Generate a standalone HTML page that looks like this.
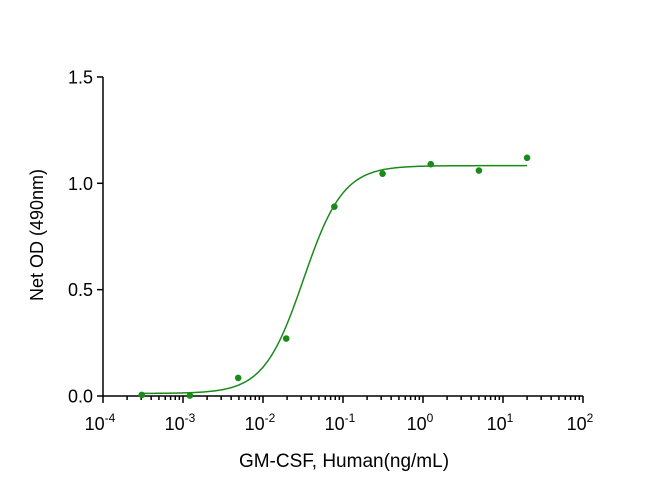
<!DOCTYPE html>
<html><head><meta charset="utf-8"><style>body{margin:0;background:#fff}svg{display:block;font-family:"Liberation Sans",Arial,sans-serif}</style></head>
<body>
<svg id="chart" width="650" height="489" viewBox="0 0 650 489"></svg>
<script>
const xExponents=[-4,-3,-2,-1,0,1,2];
const yTicks=[0.0,0.5,1.0,1.5];
const yTickLabels=["0.0","0.5","1.0","1.5"];
const concentrations=[0.000305,0.00122,0.0049,0.0195,0.078,0.3125,1.25,5,20];
const odValues=[0.005,0.002,0.085,0.27,0.89,1.045,1.09,1.06,1.12];
const fitBottom=[0.012];
const fitTop=[1.083];
const fitEC50=[0.032];
const fitHill=[1.75];

const NS="http://www.w3.org/2000/svg";
const svg=document.getElementById('chart');
const X0=103,DEC=80,Y0=396,YS=212.7;
function xs(v){return X0+(Math.log10(v)+4)*DEC;}
function ys(v){return Y0-v*YS;}
function mk(tag,attrs,parent){const e=document.createElementNS(NS,tag);for(const k in attrs)e.setAttribute(k,attrs[k]);(parent||svg).appendChild(e);return e;}
const green="#1a8a1a";

const axes=mk('g',{stroke:'#000','stroke-width':1.5,fill:'none'});


const yAxis=mk('line',{x1:X0,y1:ys(1.5),x2:X0,y2:Y0},axes);


const xAxis=mk('line',{x1:X0,y1:Y0,x2:xs(100),y2:Y0},axes);



yTicks.forEach((t,i)=>{
  const y=ys(t);
  const tk=mk('line',{x1:X0-6,y1:y,x2:X0,y2:y},axes);
  
  
  const tx=mk('text',{x:X0-10,y:y+6.5,'text-anchor':'end','font-size':18,fill:'#000'});
  tx.textContent=yTickLabels[i];
  
  
});

xExponents.forEach((e,i)=>{
  const x=X0+(e+4)*DEC;
  const tk=mk('line',{x1:x,y1:Y0,x2:x,y2:Y0+7},axes);
  
  
  const tx=mk('text',{x:x-3,y:Y0+34,'text-anchor':'middle','font-size':18,fill:'#000'});
  tx.innerHTML='10<tspan font-size="12" dy="-8">'+e+'</tspan>';
  
  
  if(i<xExponents.length-1){
    for(let m=2;m<=9;m++){
      const xm=x+Math.log10(m)*DEC;
      const mt=mk('line',{x1:xm,y1:Y0,x2:xm,y2:Y0+4},axes);
      
      
    }
  }
});

const yt=mk('text',{x:0,y:0,'text-anchor':'middle','font-size':18,fill:'#000',transform:'translate(43,235) rotate(-90)'});
yt.textContent='Net OD (490nm)';


const xt=mk('text',{x:344,y:467,'text-anchor':'middle','font-size':19,fill:'#000'});
xt.textContent='GM-CSF, Human(ng/mL)';



function fit(c){return fitBottom[0]+(fitTop[0]-fitBottom[0])/(1+Math.pow(fitEC50[0]/c,fitHill[0]));}
let d='';
const lo=Math.log10(concentrations[0]),hi=Math.log10(concentrations[concentrations.length-1]);
for(let i=0;i<=300;i++){const c=Math.pow(10,lo+(hi-lo)*i/300);d+=(i?'L':'M')+xs(c).toFixed(2)+','+ys(fit(c)).toFixed(2);}
const curve=mk('path',{d:d,stroke:green,'stroke-width':1.5,fill:'none'});



concentrations.forEach((c,i)=>{
  const p=mk('circle',{cx:xs(c),cy:ys(odValues[i]),r:3.3,fill:green});
  
  
});
</script>
</body></html>
